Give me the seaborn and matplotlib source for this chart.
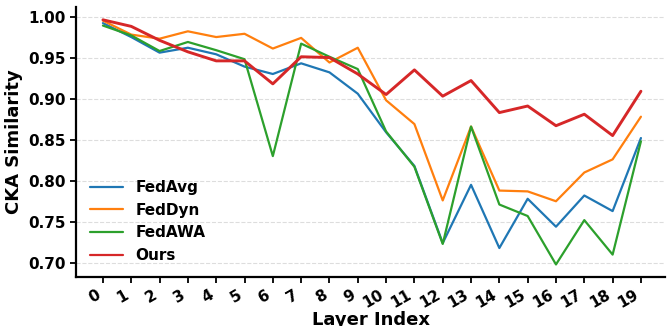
import numpy as np
import pandas as pd
import matplotlib
matplotlib.use("Agg")
import matplotlib.pyplot as plt
import seaborn as sns

layers = list(range(20))
fedavg = [0.992, 0.975, 0.956, 0.962, 0.954, 0.939, 0.930, 0.943, 0.932, 0.906,
          0.859, 0.818, 0.724, 0.795, 0.718, 0.778, 0.744, 0.782, 0.763, 0.852]
feddyn = [0.995, 0.978, 0.973, 0.982, 0.975, 0.979, 0.961, 0.974, 0.944, 0.962,
          0.898, 0.869, 0.776, 0.866, 0.788, 0.787, 0.775, 0.810, 0.826, 0.878]
fedawa = [0.989, 0.977, 0.958, 0.969, 0.959, 0.948, 0.830, 0.967, 0.951, 0.936,
          0.860, 0.817, 0.723, 0.866, 0.771, 0.757, 0.698, 0.752, 0.710, 0.848]
ours = [0.996, 0.988, 0.971, 0.957, 0.946, 0.946, 0.918, 0.951, 0.950, 0.930,
        0.905, 0.935, 0.903, 0.922, 0.883, 0.891, 0.867, 0.881, 0.855, 0.909]
methods = ["FedAvg", "FedDyn", "FedAWA", "Ours"]

df = pd.DataFrame({
    "Layer": layers * 4,
    "CKA": fedavg + feddyn + fedawa + ours,
    "Method": sum([[m] * 20 for m in methods], []),
})

sns.set_style("ticks")
plt.rcParams["font.family"] = ["DejaVu Sans"]
plt.rcParams["font.weight"] = "bold"
for key in ["text.color", "axes.labelcolor", "xtick.color", "ytick.color", "axes.edgecolor"]:
    plt.rcParams[key] = "black"

palette = {"FedAvg": "#1f77b4", "FedDyn": "#ff7f0e", "FedAWA": "#2ca02c", "Ours": "#d62728"}
widths = {"FedAvg": 1.6, "FedDyn": 1.6, "FedAWA": 1.6, "Ours": 2.1}

fig = plt.figure(figsize=(6.67, 3.26), dpi=100)
ax = fig.add_axes([0.114, 0.151, 0.883, 0.828])

for m in methods:
    sns.lineplot(data=df[df["Method"] == m], x="Layer", y="CKA", color=palette[m],
                 linewidth=widths[m], label=m, ax=ax)

ax.set_xlim(-0.95, 19.85)
ax.set_ylim(0.683, 1.0118)
ax.set_xticks(layers)
ax.set_xticklabels([str(l) for l in layers], rotation=30, ha="right",
                   fontsize=11, fontweight="bold")
yt = [0.70, 0.75, 0.80, 0.85, 0.90, 0.95, 1.00]
ax.set_yticks(yt)
ax.set_yticklabels([f"{v:.2f}" for v in yt], fontsize=11, fontweight="bold")
ax.set_xlabel("Layer Index", fontsize=13, fontweight="bold", labelpad=0)
ax.set_ylabel("CKA Similarity", fontsize=13, fontweight="bold")
ax.yaxis.grid(True, linestyle="--", color="#dddddd", linewidth=0.8)
ax.set_axisbelow(True)
sns.despine(ax=ax)
ax.spines["left"].set_linewidth(1.6)
ax.spines["bottom"].set_linewidth(1.6)
ax.tick_params(width=1.3, length=4, colors="black")

leg = ax.legend(loc="lower left", frameon=False, prop={"weight": "bold", "size": 11},
                handlelength=2.2, bbox_to_anchor=(0.0, 0.0))
for line in leg.get_lines():
    line.set_linewidth(1.6)

fig.savefig("out.png", dpi=100)
